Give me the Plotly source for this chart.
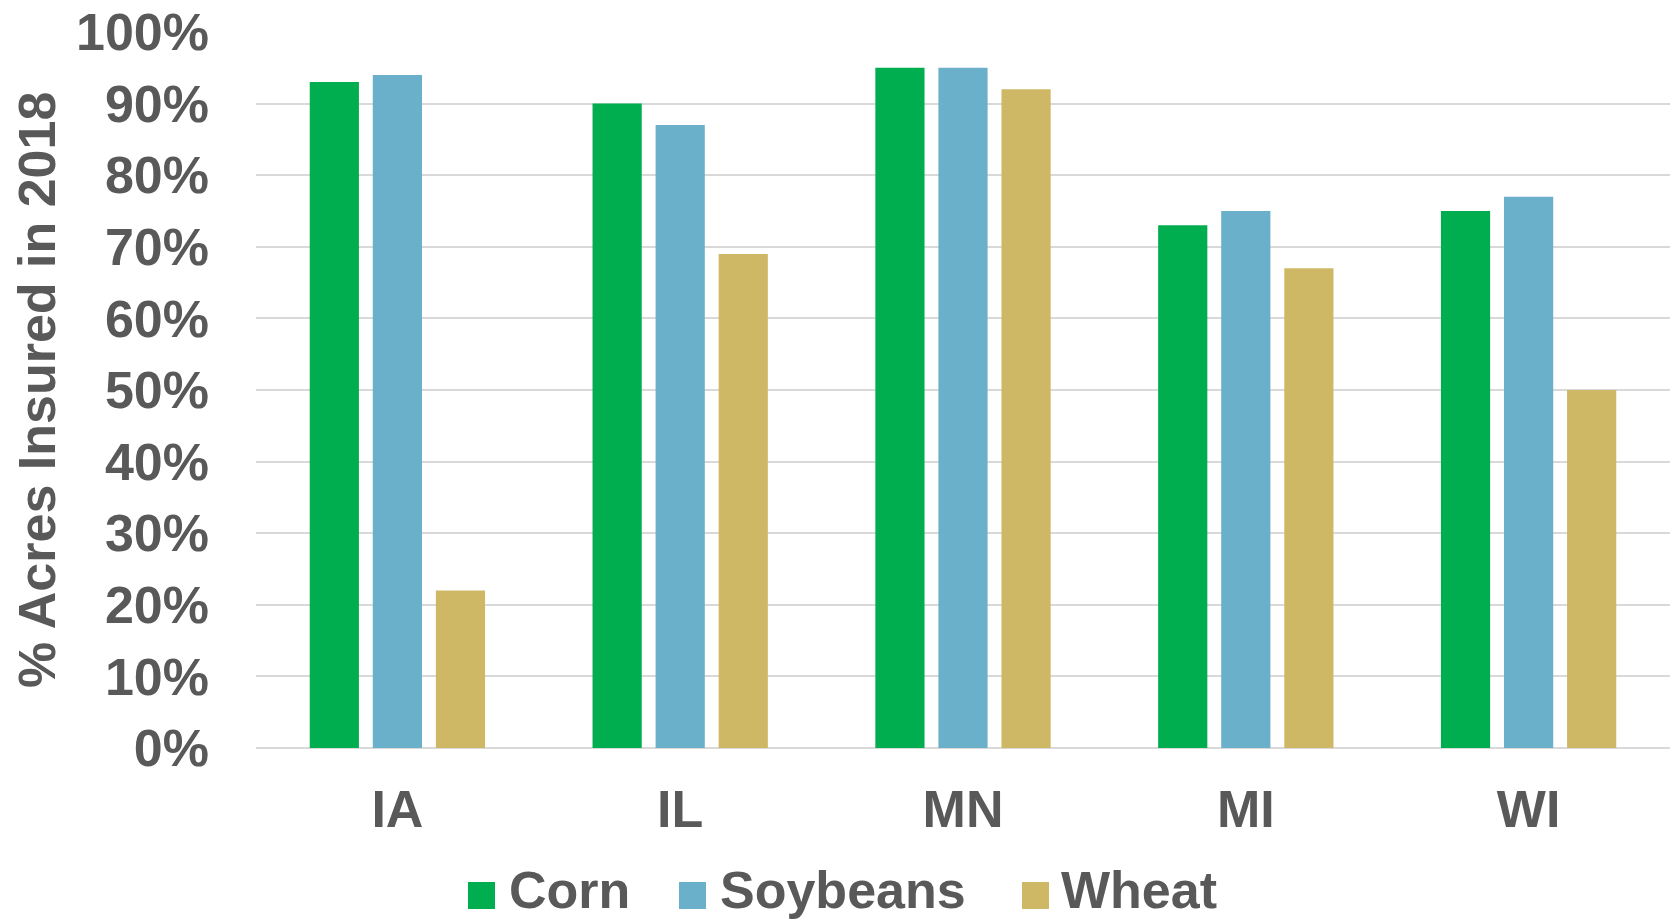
import plotly.graph_objects as go

states = ["IA", "IL", "MN", "MI", "WI"]
crops = ["Corn", "Soybeans", "Wheat"]
corn = [0.93, 0.90, 0.95, 0.73, 0.75]
soybeans = [0.94, 0.87, 0.95, 0.75, 0.77]
wheat = [0.22, 0.69, 0.92, 0.67, 0.50]
colors = ["#00AE4F", "#6BB0CA", "#CEB866"]

W, H = 1675, 921
L, R, T, B = 256, 5, 32, 173
TEXT = "#595959"
FONT = "Liberation Sans, Arial, sans-serif"

fig = go.Figure()
for name, vals, col in zip(crops, [corn, soybeans, wheat], colors):
    fig.add_trace(go.Bar(x=states, y=vals, name=name, marker=dict(color=col, line=dict(width=0)),
                         showlegend=False))

plot_w = W - L - R
plot_h = H - T - B


def px_x(px):
    return (px - L) / plot_w


def px_y(py):
    return (H - B - py) / plot_h


# custom legend with large square swatches
swatch_x = [468, 679, 1022]
text_x = [508, 719, 1060]
swatch_y = 895.5
text_y = 890
sw = 27
shapes = []
annotations = []
for name, col, sx, tx in zip(crops, colors, swatch_x, text_x):
    shapes.append(dict(type="rect", xref="paper", yref="paper",
                       x0=px_x(sx), x1=px_x(sx + sw),
                       y0=px_y(swatch_y + sw / 2), y1=px_y(swatch_y - sw / 2),
                       fillcolor=col, line=dict(width=0)))
    annotations.append(dict(text=name, xref="paper", yref="paper", x=px_x(tx), y=px_y(text_y),
                            xanchor="left", yanchor="middle", showarrow=False, borderpad=0,
                            font=dict(family=FONT, size=52, color=TEXT, weight="bold")))

annotations.append(dict(text="% Acres Insured in 2018", xref="paper", yref="paper",
                        x=px_x(37), y=0.5, xanchor="center", yanchor="middle", textangle=-90,
                        showarrow=False,
                        font=dict(family=FONT, size=52, color=TEXT, weight="bold")))

fig.update_layout(
    width=W, height=H,
    margin=dict(l=L, r=R, t=T, b=B, autoexpand=False),
    paper_bgcolor="white", plot_bgcolor="white",
    barmode="group", bargap=0.331, bargroupgap=0.22,
    shapes=shapes, annotations=annotations,
    showlegend=False,
)
fig.update_yaxes(range=[0, 1.0], dtick=0.1, tickformat=".0%", showgrid=True,
                 gridcolor="#D9D9D9", gridwidth=2, zeroline=True, zerolinecolor="#D9D9D9",
                 zerolinewidth=2, showline=False, ticks="", ticklabelstandoff=46,
                 tickfont=dict(family=FONT, size=52, color=TEXT, weight="bold"))
fig.update_xaxes(showgrid=False, showline=False, ticks="", ticklabelstandoff=26,
                 tickfont=dict(family=FONT, size=52, color=TEXT, weight="bold"))

fig.write_html("out.html")
